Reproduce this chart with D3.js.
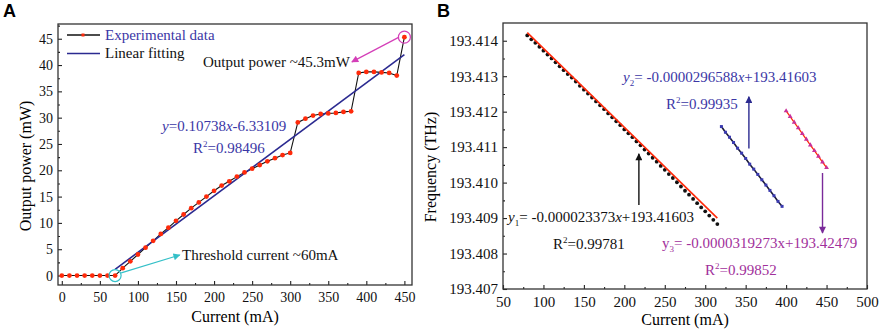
<!DOCTYPE html>
<html>
<head>
<meta charset="utf-8">
<script src="https://cdn.jsdelivr.net/npm/d3@7"></script>
<style>
  body { margin: 0; background: #fff; }
  svg { display: block; }
  text { font-family: "Liberation Serif", "Times New Roman", serif; }
</style>
</head>
<body>
<svg id="chart" width="879" height="331"></svg>
<script>
// ---- panel A : output power vs current ----
const currentA = [0, 10, 20, 30, 40, 50, 60, 70, 80, 90, 100, 110, 120, 130, 140, 150, 160, 170, 180, 190,
  200, 210, 220, 230, 240, 250, 260, 270, 280, 290, 300, 310, 320, 330, 340, 350, 360, 370, 380, 390,
  400, 410, 420, 430, 440, 450];
const powerA = [0, 0, 0, 0, 0, 0, 0, 0, 1.4, 2.7, 4.0, 5.3, 6.6, 7.9, 9.1, 10.4, 11.6, 12.8, 13.9, 15.0,
  16.1, 17.1, 17.9, 18.8, 19.6, 20.3, 21.0, 21.7, 22.3, 22.9, 23.3, 29.1, 29.8, 30.4, 30.7, 30.8, 30.9, 31.1, 31.2, 38.5,
  38.7, 38.7, 38.6, 38.5, 38.0, 45.3];
const fitA = { slope: 0.10738, intercept: -6.33109, from: 70, to: 450 };
const xTicksA = [0, 50, 100, 150, 200, 250, 300, 350, 400, 450];
const yTicksA = [0, 5, 10, 15, 20, 25, 30, 35, 40, 45];

// ---- panel B : frequency vs current ----
const currentB1 = [80, 85, 90, 95, 100, 105, 110, 115, 120, 125, 130, 135, 140, 145, 150, 155, 160, 165, 170, 175,
  180, 185, 190, 195, 200, 205, 210, 215, 220, 225, 230, 235, 240, 245, 250, 255, 260, 265, 270, 275,
  280, 285, 290, 295, 300, 305, 310, 315];
const freqB1 = [193.41415, 193.41404, 193.41394, 193.41383, 193.41372, 193.41361, 193.41350, 193.41339, 193.41328, 193.41317,
  193.41306, 193.41296, 193.41285, 193.41273, 193.41262, 193.41251, 193.41240, 193.41229, 193.41218, 193.41207,
  193.41195, 193.41184, 193.41173, 193.41162, 193.41150, 193.41139, 193.41128, 193.41116, 193.41105, 193.41093,
  193.41082, 193.41070, 193.41059, 193.41047, 193.41036, 193.41024, 193.41013, 193.41001, 193.40989, 193.40977,
  193.40966, 193.40954, 193.40942, 193.40930, 193.40919, 193.40907, 193.40895, 193.40883];
const fitB1 = { x: [80, 315], y: [193.41423, 193.40900] };
const currentB2 = [320, 325, 330, 335, 340, 345, 350, 355, 360, 365, 370, 375, 380, 385, 390, 395];
const freqB2 = [193.41158, 193.41142, 193.41128, 193.41113, 193.41097, 193.41083, 193.41068, 193.41052,
  193.41038, 193.41023, 193.41008, 193.40993, 193.40978, 193.40963, 193.40947, 193.40933];
const currentB3 = [400, 405, 410, 415, 420, 425, 430, 435, 440, 445, 450];
const freqB3 = [193.41202, 193.41186, 193.41170, 193.41154, 193.41138, 193.41122, 193.41106, 193.41090,
  193.41074, 193.41058, 193.41042];
const xTicksB = [50, 100, 150, 200, 250, 300, 350, 400, 450, 500];
const yTicksB = [193.407, 193.408, 193.409, 193.410, 193.411, 193.412, 193.413, 193.414];

const RED = '#ff2a0a';
const NAVY = '#2b2a90';
const BLUE_TXT = '#3b37a6';
const MAGENTA = '#a1309b';
const CYAN = '#35c0c8';
const PINK = '#d43fb8';

const svg = d3.select('#chart');
const defs = svg.append('defs');
const arrowHead = (id, color) => {
  defs.append('marker')
    .attr('id', id)
    .attr('viewBox', '0 0 10 10')
    .attr('refX', 9).attr('refY', 5)
    .attr('markerUnits', 'userSpaceOnUse')
    .attr('markerWidth', 9).attr('markerHeight', 7)
    .attr('orient', 'auto')
    .append('path')
    .attr('d', 'M0,0L10,5L0,10z')
    .attr('fill', color);
};
arrowHead('ahCyan', CYAN);
arrowHead('ahPink', PINK);
arrowHead('ahBlack', '#111');
arrowHead('ahNavy', NAVY);
arrowHead('ahPurple', '#7a2a9a');

// minor ticks halfway between majors
const halves = ticks => ticks.slice(0, -1).map((t, i) => (t + ticks[i + 1]) / 2);

const drawAxes = (g, x, y, xTicks, yTicks, yFmt, fs) => {
  const [xl, xr] = x.range();
  const [yb, yt] = y.range();
  const xMinor = halves(xTicks).concat(xTicks[xTicks.length - 1] + (xTicks[1] - xTicks[0]) / 2)
    .filter(v => x(v) < xr - 1);
  const yMinor = halves(yTicks).concat(yTicks[yTicks.length - 1] + (yTicks[1] - yTicks[0]) / 2)
    .filter(v => y(v) > yt + 1);

  g.append('g').attr('transform', `translate(0,${yb})`)
    .call(d3.axisBottom(x).tickValues(xTicks).tickSize(-4).tickSizeOuter(0).tickPadding(7.5).tickFormat(d3.format('d')))
    .call(a => a.select('.domain').remove())
    .selectAll('text').attr('font-size', fs).attr('fill', '#111');
  g.append('g').attr('transform', `translate(0,${yb})`)
    .call(d3.axisBottom(x).tickValues(xMinor).tickSize(-2).tickSizeOuter(0).tickFormat(''))
    .call(a => a.select('.domain').remove());
  g.append('g').attr('transform', `translate(${xl},0)`)
    .call(d3.axisLeft(y).tickValues(yTicks).tickSize(-4).tickSizeOuter(0).tickPadding(5).tickFormat(yFmt))
    .call(a => a.select('.domain').remove())
    .selectAll('text').attr('font-size', fs).attr('fill', '#111');
  g.append('g').attr('transform', `translate(${xl},0)`)
    .call(d3.axisLeft(y).tickValues(yMinor).tickSize(-2).tickSizeOuter(0).tickFormat(''))
    .call(a => a.select('.domain').remove());
  g.selectAll('.tick line').attr('stroke', '#222').attr('stroke-width', 1.1);

  g.append('rect')
    .attr('x', xl).attr('y', yt)
    .attr('width', xr - xl).attr('height', yb - yt)
    .attr('fill', 'none')
    .attr('stroke', '#333')
    .attr('stroke-width', 1.3);
};

// text made of pieces: {t, i: italic, sub, sup}
const richText = (g, px, py, parts, color, fs = 15) => {
  const t = g.append('text').attr('x', px).attr('y', py).attr('font-size', fs).attr('fill', color);
  let shift = 0;
  parts.forEach(p => {
    const off = p.sub ? 4 : (p.sup ? -6 : 0);
    t.append('tspan')
      .attr('dy', off - shift)
      .attr('font-size', p.sub || p.sup ? fs * 0.6 : fs)
      .attr('font-style', p.i ? 'italic' : 'normal')
      .text(p.t);
    shift = off;
  });
  return t;
};

const panelLetter = (px, label) => svg.append('text')
  .attr('x', px).attr('y', 17)
  .style('font-family', '"Liberation Sans", Arial, sans-serif')
  .attr('font-weight', 'bold')
  .attr('font-size', 18)
  .text(label);

// ================= panel A =================
{
  const g = svg.append('g');
  const x = d3.scaleLinear().domain([-5, 460]).range([58, 412]);
  const y = d3.scaleLinear().domain([-1.8, 47.8]).range([285, 24]);
  drawAxes(g, x, y, xTicksA, yTicksA, d3.format('d'), 14);

  const pts = currentA.map((c, i) => [c, powerA[i]]);
  g.append('path')
    .datum(pts)
    .attr('fill', 'none')
    .attr('stroke', '#111')
    .attr('stroke-width', 1.1)
    .attr('d', d3.line().x(d => x(d[0])).y(d => y(d[1])));

  const fitPts = [fitA.from, fitA.to].map(c => [c, fitA.slope * c + fitA.intercept]);
  g.append('path')
    .datum(fitPts)
    .attr('fill', 'none')
    .attr('stroke', NAVY)
    .attr('stroke-width', 1.6)
    .attr('d', d3.line().x(d => x(d[0])).y(d => y(d[1])));

  g.append('g')
    .selectAll('circle')
    .data(pts)
    .enter().append('circle')
    .attr('cx', d => x(d[0]))
    .attr('cy', d => y(d[1]))
    .attr('r', 2.4)
    .attr('fill', RED);

  // highlight circles
  g.append('circle')
    .attr('cx', x(70)).attr('cy', y(0)).attr('r', 6)
    .attr('fill', 'none').attr('stroke', CYAN).attr('stroke-width', 1.2);
  g.append('circle')
    .attr('cx', x(450)).attr('cy', y(45.3)).attr('r', 6)
    .attr('fill', 'none').attr('stroke', PINK).attr('stroke-width', 1.2);

  g.append('line')
    .attr('x1', x(78)).attr('y1', y(0.5))
    .attr('x2', x(155)).attr('y2', y(3.9))
    .attr('stroke', CYAN).attr('stroke-width', 1.2)
    .attr('marker-end', 'url(#ahCyan)');
  g.append('line')
    .attr('x1', x(443)).attr('y1', y(45.3))
    .attr('x2', x(381)).attr('y2', y(40.6))
    .attr('stroke', PINK).attr('stroke-width', 1.2)
    .attr('marker-end', 'url(#ahPink)');

  richText(g, 182, 260, [{ t: 'Threshold current ~60mA' }], '#111');
  richText(g, 203, 67, [{ t: 'Output power ~45.3mW' }], '#111');
  richText(g, 162, 131, [{ t: 'y', i: true }, { t: '=0.10738' }, { t: 'x', i: true }, { t: '-6.33109' }], BLUE_TXT);
  richText(g, 193, 153, [{ t: 'R' }, { t: '2', sup: true }, { t: '=0.98496' }], BLUE_TXT);

  // legend
  g.append('line').attr('x1', 67).attr('x2', 100).attr('y1', 35).attr('y2', 35)
    .attr('stroke', '#111').attr('stroke-width', 1.3);
  g.append('rect').attr('x', 81.5).attr('y', 33.5).attr('width', 3).attr('height', 3).attr('fill', RED);
  richText(g, 105, 40, [{ t: 'Experimental data' }], BLUE_TXT);
  g.append('line').attr('x1', 67).attr('x2', 100).attr('y1', 53.5).attr('y2', 53.5)
    .attr('stroke', NAVY).attr('stroke-width', 1.6);
  richText(g, 105, 58, [{ t: 'Linear fitting' }], '#111');

  g.append('text')
    .attr('x', 235).attr('y', 322)
    .attr('text-anchor', 'middle')
    .attr('font-size', 16)
    .text('Current (mA)');
  g.append('text')
    .attr('transform', 'rotate(-90)')
    .attr('x', -166).attr('y', 31)
    .attr('text-anchor', 'middle')
    .attr('font-size', 16)
    .text('Output power (mW)');
}

// ================= panel B =================
{
  const g = svg.append('g');
  const x = d3.scaleLinear().domain([50, 500]).range([503, 867]);
  const y = d3.scaleLinear().domain([193.407, 193.4145]).range([289, 23]);
  drawAxes(g, x, y, xTicksB, yTicksB, d3.format('.3f'), 15);

  const line = d3.line().x(d => x(d[0])).y(d => y(d[1]));

  // series 1 : dots + red fit
  g.append('g')
    .selectAll('circle')
    .data(currentB1.map((c, i) => [c, freqB1[i]]))
    .enter().append('circle')
    .attr('cx', d => x(d[0]))
    .attr('cy', d => y(d[1]))
    .attr('r', 1.9)
    .attr('fill', '#111');
  g.append('path')
    .datum(fitB1.x.map((c, i) => [c, fitB1.y[i]]))
    .attr('fill', 'none')
    .attr('stroke', RED)
    .attr('stroke-width', 1.6)
    .attr('d', line);

  // series 2 : dark line + blue squares
  const pts2 = currentB2.map((c, i) => [c, freqB2[i]]);
  g.append('path').datum(pts2)
    .attr('fill', 'none').attr('stroke', '#1c1c38').attr('stroke-width', 1.6)
    .attr('d', line);
  g.append('g').selectAll('rect').data(pts2).enter().append('rect')
    .attr('x', d => x(d[0]) - 1.5).attr('y', d => y(d[1]) - 1.5)
    .attr('width', 3).attr('height', 3)
    .attr('fill', '#3a3ab0');

  // series 3 : red line + pink triangles
  const pts3 = currentB3.map((c, i) => [c, freqB3[i]]);
  g.append('path').datum(pts3)
    .attr('fill', 'none').attr('stroke', RED).attr('stroke-width', 1.3)
    .attr('d', line);
  g.append('g').selectAll('path.tri').data(pts3).enter().append('path')
    .attr('class', 'tri')
    .attr('transform', d => `translate(${x(d[0])},${y(d[1])})`)
    .attr('d', d3.symbol(d3.symbolTriangle, 10))
    .attr('fill', '#c8309a');

  // arrows
  g.append('line')
    .attr('x1', x(218)).attr('y1', y(193.40937))
    .attr('x2', x(218)).attr('y2', y(193.41081))
    .attr('stroke', '#111').attr('stroke-width', 1.4)
    .attr('marker-end', 'url(#ahBlack)');
  g.append('line')
    .attr('x1', x(354)).attr('y1', y(193.41096))
    .attr('x2', x(354)).attr('y2', y(193.41242))
    .attr('stroke', NAVY).attr('stroke-width', 1.4)
    .attr('marker-end', 'url(#ahNavy)');
  g.append('line')
    .attr('x1', x(445)).attr('y1', y(193.41027))
    .attr('x2', x(445)).attr('y2', y(193.40858))
    .attr('stroke', '#7a2a9a').attr('stroke-width', 1.4)
    .attr('marker-end', 'url(#ahPurple)');

  richText(g, 508, 222, [{ t: 'y', i: true }, { t: '1', sub: true }, { t: '= -0.000023373' }, { t: 'x', i: true }, { t: '+193.41603' }], '#111');
  richText(g, 553, 249, [{ t: 'R' }, { t: '2', sup: true }, { t: '=0.99781' }], '#111');
  richText(g, 623, 82, [{ t: 'y', i: true }, { t: '2', sub: true }, { t: '= -0.0000296588' }, { t: 'x', i: true }, { t: '+193.41603' }], BLUE_TXT);
  richText(g, 666, 109, [{ t: 'R' }, { t: '2', sup: true }, { t: '=0.99935' }], BLUE_TXT);
  richText(g, 662, 248, [{ t: 'y' }, { t: '3', sub: true }, { t: '= -0.0000319273x+193.42479' }], MAGENTA);
  richText(g, 705, 275, [{ t: 'R' }, { t: '2', sup: true }, { t: '=0.99852' }], MAGENTA);

  g.append('text')
    .attr('x', 685).attr('y', 325)
    .attr('text-anchor', 'middle')
    .attr('font-size', 16)
    .text('Current (mA)');
  g.append('text')
    .attr('transform', 'rotate(-90)')
    .attr('x', -167).attr('y', 436)
    .attr('text-anchor', 'middle')
    .attr('font-size', 16)
    .text('Frequency (THz)');
}

panelLetter(3, 'A');
panelLetter(437, 'B');
</script>
</body>
</html>
